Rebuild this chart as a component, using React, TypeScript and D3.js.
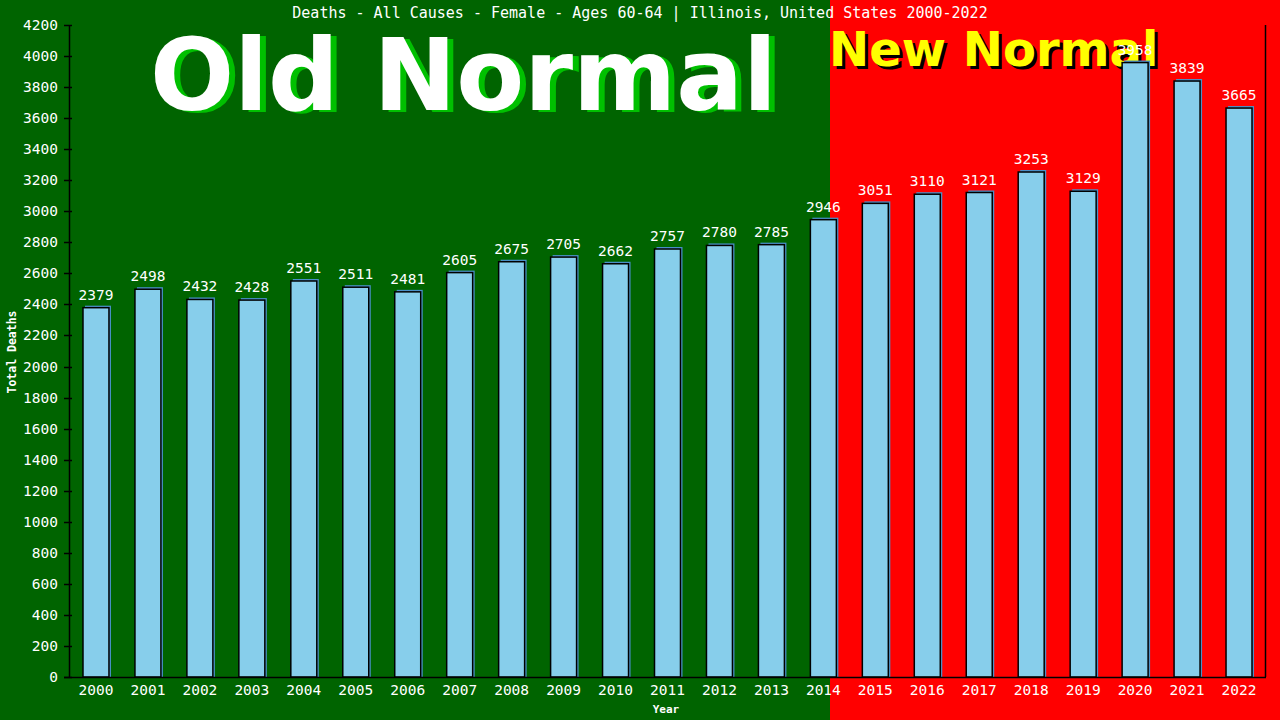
import * as d3 from 'd3'
import React, { useEffect, useRef } from 'react'

const years = ['2000', '2001', '2002', '2003', '2004', '2005', '2006', '2007', '2008', '2009', '2010', '2011',
    '2012', '2013', '2014', '2015', '2016', '2017', '2018', '2019', '2020', '2021', '2022'];
const deaths = [2379, 2498, 2432, 2428, 2551, 2511, 2481, 2605, 2675, 2705, 2662, 2757,
    2780, 2785, 2946, 3051, 3110, 3121, 3253, 3129, 3958, 3839, 3665];
const yTicks = d3.range(0, 4201, 200);
const title = 'Deaths - All Causes - Female - Ages 60-64 | Illinois, United States 2000-2022';

const W = 1280;
const H = 720;
const mono = '"DejaVu Sans Mono", monospace';
const sans = '"DejaVu Sans", sans-serif';

const App: React.FC = () => {
    const ref = useRef<SVGSVGElement>(null);

    useEffect(() => {
        if (!ref.current) return;
        const svg = d3.select(ref.current);
        svg.selectAll('*').remove();

        const plot = { left: 70, right: 1265, top: 25, bottom: 677 };
        const splitX = 830;

        const x = d3.scaleBand<string>()
            .domain(years)
            .range([plot.left, plot.right])
            .paddingInner(0.5)
            .paddingOuter(0.25);
        const y = d3.scaleLinear().domain([0, 4200]).range([plot.bottom, plot.top]);

        // backgrounds
        svg.append('rect').attr('x', 0).attr('y', 0).attr('width', splitX).attr('height', H).attr('fill', '#006400');
        svg.append('rect').attr('x', splitX).attr('y', 0).attr('width', W - splitX).attr('height', H).attr('fill', '#ff0000');

        // big captions
        const old = svg.append('g').attr('font-family', sans).attr('font-weight', 'bold').attr('font-size', 99);
        old.append('text').attr('x', 156).attr('y', 112).attr('fill', '#00c000').text('Old Normal');
        old.append('text').attr('x', 150).attr('y', 110).attr('fill', '#ffffff').text('Old Normal');

        const nw = svg.append('g').attr('font-family', sans).attr('font-weight', 'bold').attr('font-size', 48);
        nw.append('text').attr('x', 832).attr('y', 69).attr('fill', '#000000').text('New Normal');
        nw.append('text').attr('x', 829).attr('y', 66).attr('fill', '#ffff00').text('New Normal');

        // title
        svg.append('text')
            .attr('x', W / 2).attr('y', 18)
            .attr('text-anchor', 'middle')
            .attr('font-family', mono).attr('font-size', 15)
            .attr('fill', '#fff')
            .text(title);

        // bars
        const bw = x.bandwidth();
        const bars = svg.append('g').selectAll('g').data(deaths).enter().append('g');
        bars.append('rect')
            .attr('x', (d, i) => (x(years[i]) as number) + 2)
            .attr('y', d => y(d) - 2)
            .attr('width', bw)
            .attr('height', d => plot.bottom - y(d) + 2)
            .attr('fill', '#4a90c8');
        bars.append('rect')
            .attr('x', (d, i) => x(years[i]) as number)
            .attr('y', d => y(d))
            .attr('width', bw)
            .attr('height', d => plot.bottom - y(d))
            .attr('fill', '#87ceeb')
            .attr('stroke', '#000')
            .attr('stroke-width', 1.5);

        // value labels
        svg.append('g')
            .attr('font-family', mono).attr('font-size', 14.5)
            .attr('text-anchor', 'middle').attr('fill', '#fff')
            .selectAll('text').data(deaths).enter().append('text')
            .attr('x', (d, i) => (x(years[i]) as number) + bw / 2)
            .attr('y', d => y(d) - 8)
            .text(d => String(d));

        // axes
        svg.append('line')
            .attr('x1', plot.left - 0.5).attr('x2', plot.left - 0.5)
            .attr('y1', plot.top).attr('y2', plot.bottom)
            .attr('stroke', '#000').attr('stroke-width', 1.5);
        svg.append('line')
            .attr('x1', plot.left - 6).attr('x2', plot.right + 1)
            .attr('y1', plot.bottom + 0.5).attr('y2', plot.bottom + 0.5)
            .attr('stroke', '#000').attr('stroke-width', 1.5);
        svg.append('line')
            .attr('x1', plot.right + 0.5).attr('x2', plot.right + 0.5)
            .attr('y1', plot.top).attr('y2', plot.bottom)
            .attr('stroke', '#000').attr('stroke-width', 1.5);

        const yt = svg.append('g').selectAll('g').data(yTicks).enter().append('g');
        yt.append('line')
            .attr('x1', plot.left - 6).attr('x2', plot.left + 2)
            .attr('y1', d => Math.round(y(d)) + 0.5).attr('y2', d => Math.round(y(d)) + 0.5)
            .attr('stroke', '#000').attr('stroke-width', 1.5);
        yt.append('text')
            .attr('x', 58).attr('y', d => y(d) + 5)
            .attr('text-anchor', 'end')
            .attr('font-family', mono).attr('font-size', 14.5)
            .attr('fill', '#fff')
            .text(d => String(d));

        svg.append('g')
            .attr('font-family', mono).attr('font-size', 14.5)
            .attr('text-anchor', 'middle').attr('fill', '#fff')
            .selectAll('text').data(years).enter().append('text')
            .attr('x', d => (x(d) as number) + bw / 2)
            .attr('y', 695)
            .text(d => d);

        // axis titles
        svg.append('text')
            .attr('x', 666).attr('y', 713)
            .attr('text-anchor', 'middle')
            .attr('font-family', mono).attr('font-size', 11).attr('font-weight', 'bold')
            .attr('fill', '#fff')
            .text('Year');
        svg.append('text')
            .attr('transform', 'translate(16, 352) rotate(-90)')
            .attr('text-anchor', 'middle')
            .attr('font-family', mono).attr('font-size', 11.5).attr('font-weight', 'bold')
            .attr('fill', '#fff')
            .text('Total Deaths');
    }, []);

    return <svg ref={ref} width={W} height={H} style={{ position: 'absolute', left: 0, top: 0 }}></svg>;
};

export default App;
